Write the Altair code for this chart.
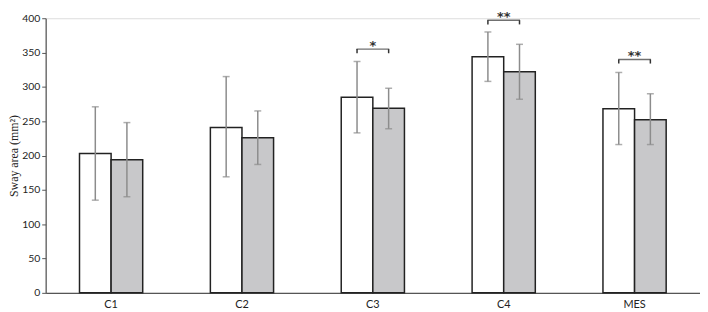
import altair as alt
import pandas as pd

categories = ["C1", "C2", "C3", "C4", "MES"]
groups = ["A", "B"]
means_a = [203, 241, 285, 344, 268]
low_a = [135, 169, 233, 308, 216]
high_a = [271, 315, 337, 380, 321]
means_b = [194, 226, 269, 322, 252]
low_b = [140, 187, 239, 282, 216]
high_b = [248, 265, 298, 362, 290]

sig_cats = ["C3", "C4", "MES"]
sig_bracket = [355, 397, 340]
sig_labels = ["*", "**", "**"]

rows = []
for i, c in enumerate(categories):
    rows.append(dict(cat=c, grp="A", mean=means_a[i], lo=low_a[i], hi=high_a[i]))
    rows.append(dict(cat=c, grp="B", mean=means_b[i], lo=low_b[i], hi=high_b[i]))
df = pd.DataFrame(rows)

brows = []
for c, y, s in zip(sig_cats, sig_bracket, sig_labels):
    for g in groups:
        brows.append(dict(cat=c, grp=g, top=y, bot=y - 6, lab=s, star=y + 10))
bdf = pd.DataFrame(brows)
sdf = bdf[bdf.grp == "A"]

xscale = alt.Scale(domain=categories, paddingInner=0.517, paddingOuter=0.2585)
xaxis = alt.Axis(title=None, ticks=False, labelAngle=0, labelPadding=6,
                 labelFont="Lato", labelFontSize=11, labelColor="#222",
                 domainColor="#555", domainWidth=1.2)
xoff = alt.XOffset("grp:N", scale=alt.Scale(domain=groups, paddingInner=0, paddingOuter=0))
yscale = alt.Scale(domain=[0, 400], nice=False)
yaxis = alt.Axis(title="Sway area (mm²)", values=list(range(0, 401, 50)),
                 grid=False, tickSize=4, labelPadding=2, tickColor="#555",
                 domainColor="#555", domainWidth=1.2, labelOverlap=False,
                 labelFont="Lato", labelFontSize=10.5, labelColor="#222",
                 titleFont="Liberation Serif", titleFontSize=12,
                 titleFontWeight="normal", titleColor="#222",
                 titleX=-37, titleBaseline="top", titleAngle=270)


def X():
    return alt.X("cat:N", scale=xscale, sort=categories, axis=xaxis)


def Y(field):
    return alt.Y(field, scale=yscale, axis=yaxis)


bars = alt.Chart(df).mark_bar(stroke="#222", strokeWidth=1.5).encode(
    x=X(), xOffset=xoff, y=Y("mean:Q"),
    fill=alt.Fill("grp:N", scale=alt.Scale(domain=groups, range=["#ffffff", "#c8c8ca"]), legend=None),
)

err = alt.Chart(df).mark_rule(color="#8c8c8c", strokeWidth=1.5).encode(
    x=X(), xOffset=xoff, y=Y("lo:Q"), y2="hi:Q",
)
cap_lo = alt.Chart(df).mark_tick(color="#8c8c8c", thickness=1.5, size=7, orient="horizontal").encode(
    x=X(), xOffset=xoff, y=Y("lo:Q"),
)
cap_hi = alt.Chart(df).mark_tick(color="#8c8c8c", thickness=1.5, size=7, orient="horizontal").encode(
    x=X(), xOffset=xoff, y=Y("hi:Q"),
)

br_v = alt.Chart(bdf).mark_rule(color="#333", strokeWidth=1.5).encode(
    x=X(), xOffset=xoff, y=Y("bot:Q"), y2="top:Q",
)
br_h = alt.Chart(sdf).mark_tick(color="#333", thickness=1.5, size=33, orient="horizontal").encode(
    x=X(), y=Y("top:Q"),
)
stars = alt.Chart(sdf).mark_text(font="DejaVu Sans", fontSize=13, fontWeight="bold", color="#333",
                                 baseline="middle", dy=4).encode(
    x=X(), y=Y("star:Q"), text="lab:N",
)

chart = alt.layer(bars, err, cap_lo, cap_hi, br_v, br_h, stars).properties(
    width=660, height=277,
    autosize=alt.AutoSizeParams(type="none"),
    padding={"left": 38, "top": 9, "right": 0, "bottom": 18},
).configure_view(strokeWidth=0, stroke="transparent").configure(background="white")

chart.save("out.html", embed_options={"renderer": "svg", "actions": False})
